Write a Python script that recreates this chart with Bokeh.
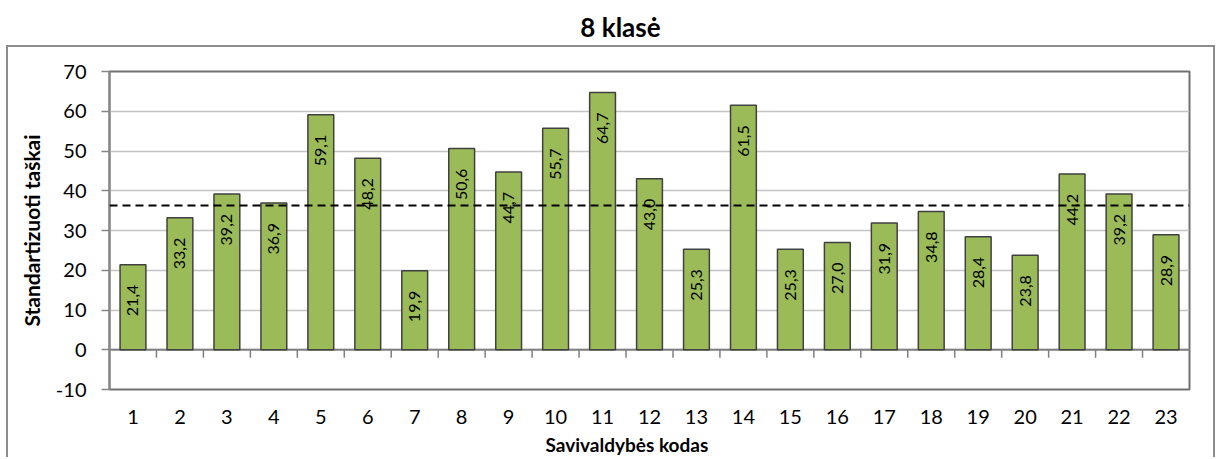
from bokeh.plotting import figure
from bokeh.models import (ColumnDataSource, Range1d, FixedTicker, Span, LabelSet,
                          Title, Div, Spacer, CustomJSTickFormatter)
from bokeh.layouts import column, row
from bokeh.core.properties import value
from bokeh.embed import file_html
from bokeh.resources import INLINE
import math

# ---- data ----
codes = [str(i) for i in range(1, 24)]
scores = [21.4, 33.2, 39.2, 36.9, 59.1, 48.2, 19.9, 50.6, 44.7, 55.7, 64.7, 43.0,
          25.3, 61.5, 25.3, 27.0, 31.9, 34.8, 28.4, 23.8, 44.2, 39.2, 28.9]
average = 36.3
y_ticks = [-10, 0, 10, 20, 30, 40, 50, 60, 70]
title_text = "8 klasė"
x_title = "Savivaldybės kodas"
y_title = "Standartizuoti taškai"

FONT = "Lato"
n = len(codes)
xs = list(range(1, n + 1))
labels = [f"{v:.1f}".replace(".", ",") for v in scores]

src = ColumnDataSource(dict(x=xs, top=scores, lab=labels))

p = figure(width=1209, height=412, output_backend="svg", toolbar_location=None,
           x_range=Range1d(0.5, n + 0.5), y_range=Range1d(y_ticks[0], y_ticks[-1]),
           min_border_left=101, min_border_right=28, min_border_top=24,
           min_border_bottom=69)
p.styles = {"border": "2px solid #8c8c8c", "border-bottom": "none"}
p.background_fill_color = "white"
p.border_fill_color = "white"
p.outline_line_color = "#707070"
p.outline_line_width = 2

# grid
p.xgrid.grid_line_color = None
p.ygrid.grid_line_color = "#c4c4c4"
p.ygrid.grid_line_width = 1.5
p.ygrid.ticker = FixedTicker(ticks=y_ticks)

# y axis
p.yaxis.ticker = FixedTicker(ticks=y_ticks)
p.yaxis.formatter = CustomJSTickFormatter(code="return String(tick);")
p.yaxis.axis_line_color = "#868686"
p.yaxis.axis_line_width = 2
p.yaxis.major_tick_line_color = "#868686"
p.yaxis.major_tick_line_width = 1.5
p.yaxis.major_tick_out = 8
p.yaxis.major_tick_in = 0
p.yaxis.minor_tick_line_color = None
p.yaxis.major_label_standoff = 15
p.yaxis.major_label_text_font = FONT
p.yaxis.major_label_text_font_size = "20px"
p.yaxis.major_label_text_color = "black"
p.yaxis.axis_label = y_title
p.yaxis.axis_label_text_font = FONT
p.yaxis.axis_label_text_font_size = "21px"
p.yaxis.axis_label_text_font_style = "bold"
p.yaxis.axis_label_text_color = "black"
p.yaxis.axis_label_standoff = 9

# x axis (labels only, at frame bottom)
p.xaxis.ticker = FixedTicker(ticks=xs)
p.xaxis.formatter = CustomJSTickFormatter(args=dict(codes=codes),
                                          code="return codes[Math.round(tick) - 1];")
p.xaxis.axis_line_color = None
p.xaxis.major_tick_line_color = None
p.xaxis.minor_tick_line_color = None
p.xaxis.major_label_standoff = 14
p.xaxis.major_label_text_font = FONT
p.xaxis.major_label_text_font_size = "20px"
p.xaxis.major_label_text_color = "black"

# x-axis title below, slightly left of the frame centre
p.add_layout(Title(text=x_title, align="left", offset=436, text_font=FONT,
                   text_font_size="19px", text_font_style="bold", text_color="black",
                   standoff=8), "below")

# category axis line at y = 0 with ticks between categories
bounds = [i + 0.5 for i in range(1, n)]
p.segment(x0=[0.5], y0=[0], x1=[n + 0.5], y1=[0], line_color="#808080", line_width=2)
p.segment(x0=bounds, y0=[0] * len(bounds), x1=bounds, y1=[-2] * len(bounds),
          line_color="#808080", line_width=1.5)

# bars
p.vbar(x="x", top="top", bottom=0, width=0.55, source=src,
       fill_color="#9BBB59", line_color="#404040", line_width=1.5)

# average line
p.add_layout(Span(location=average, dimension="width", line_color="black",
                  line_width=2, line_dash="8 5"))

# value labels (inside end, rotated)
p.add_layout(LabelSet(x="x", y="top", text="lab", source=src, angle=math.pi / 2,
                      text_align="right", text_baseline="middle", y_offset=-20,
                      text_font=value(FONT), text_font_size="16px", text_color="black"))

title_div = Div(
    text=(f'<div style="width:1213px;text-align:center;position:relative;left:14px;'
          f'margin-top:12px;line-height:30px;font-family:{FONT};font-weight:bold;'
          f'font-size:26px;color:black;">{title_text}</div>'),
    width=1213, height=45, margin=0)

layout = column(title_div, row(Spacer(width=6), p), spacing=0)

open("out.html", "w").write(file_html(layout, INLINE))
